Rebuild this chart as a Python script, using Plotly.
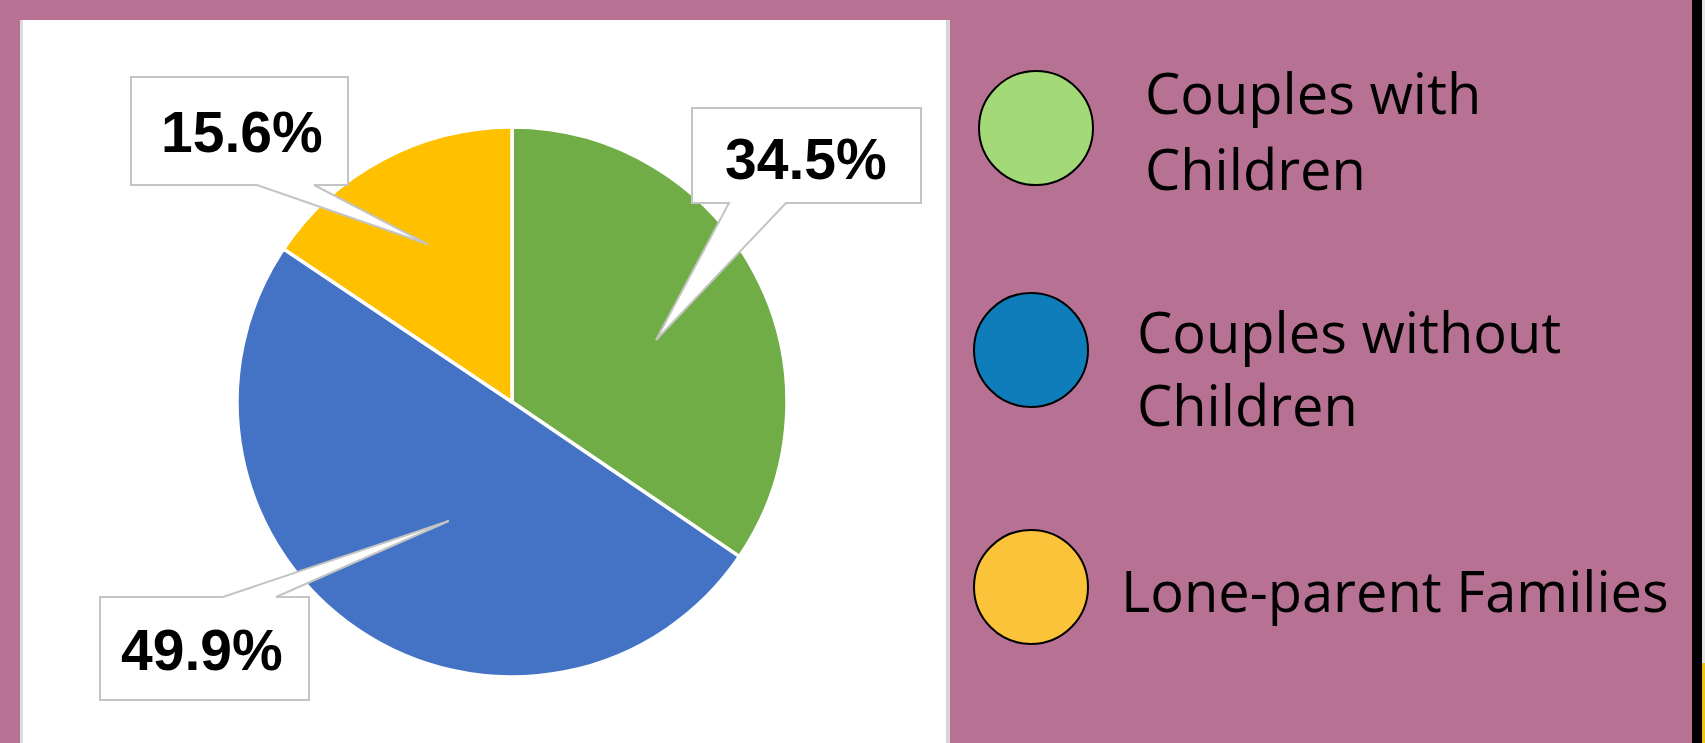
import math
import plotly.graph_objects as go

# ---------------- data ----------------
categories = ["Couples with Children", "Couples without Children", "Lone-parent Families"]
shares = [34.5, 49.9, 15.6]
legend_lines = [["Couples with", "Children"], ["Couples without", "Children"], ["Lone-parent Families"]]
label_texts = [f"{v:.1f}%" for v in shares]

# ---------------- style / layout ----------------
W, H = 1705, 743
BG = "#B77293"
pie_cx, pie_cy, pie_r = 512, 402, 275
pie_colors = ["#70AD47", "#4472C4", "#FFC000"]
legend_colors = ["#A3D977", "#0F7DB9", "#FBC33A"]

# callout boxes: (x0, y0, x1, y1), pointer side, pointer base x-range, tip radial fraction, angle offset
callouts = [
    dict(box=(692, 108, 921, 203), side="bottom", base=(729, 786), frac=0.57, dang=4.6, text_c=(806, 159)),
    dict(box=(100, 597, 309, 700), side="top", base=(223, 276), frac=0.49, dang=-6.0, text_c=(202, 650)),
    dict(box=(131, 77, 348, 185), side="bottom", base=(257, 314), frac=0.65, dang=0.0, text_c=(242, 132)),
]

legend_circles = [(1036, 128), (1031, 350), (1031, 587)]
legend_r = 57
legend_text_pos = [[(1143, 92), (1143, 168)], [(1135, 331), (1135, 404)], [(1119, 590)]]

fig = go.Figure()

fig.add_trace(go.Pie(
    labels=categories,
    values=shares,
    sort=False,
    direction="clockwise",
    rotation=0,
    marker=dict(colors=pie_colors, line=dict(color="white", width=3.5)),
    textinfo="none",
    hoverinfo="label+percent",
    showlegend=False,
    domain=dict(x=[(pie_cx - pie_r) / W, (pie_cx + pie_r) / W],
                y=[1 - (pie_cy + pie_r) / H, 1 - (pie_cy - pie_r) / H]),
))

shapes = []
# white panel and its edges
shapes.append(dict(type="rect", xref="x", yref="y", x0=20, x1=950, y0=20, y1=H + 5,
                   fillcolor="white", line=dict(width=0), layer="below"))
shapes.append(dict(type="rect", xref="x", yref="y", x0=20, x1=23, y0=20, y1=H + 5,
                   fillcolor="#DCDCDC", line=dict(width=0), layer="below"))
shapes.append(dict(type="rect", xref="x", yref="y", x0=946, x1=950, y0=20, y1=H + 5,
                   fillcolor="#D6D6D6", line=dict(width=0), layer="below"))
# right edge strips
shapes.append(dict(type="rect", xref="x", yref="y", x0=1692, x1=1702, y0=-5, y1=H + 5,
                   fillcolor="black", line=dict(width=0), layer="below"))
shapes.append(dict(type="rect", xref="x", yref="y", x0=1702, x1=W + 5, y0=-5, y1=663,
                   fillcolor="#E6E6E6", line=dict(width=0), layer="below"))
shapes.append(dict(type="rect", xref="x", yref="y", x0=1702, x1=W + 5, y0=663, y1=H + 5,
                   fillcolor="#F2C21B", line=dict(width=0), layer="below"))

# callouts, tips placed from slice mid-angles
total = sum(shares)
cum = 0.0
annotations = []
for v, txt, c in zip(shares, label_texts, callouts):
    mid = (cum + v / 2) / total * 360 + c["dang"]
    cum += v
    th = math.radians(mid)
    tx = pie_cx + c["frac"] * pie_r * math.sin(th)
    ty = pie_cy - c["frac"] * pie_r * math.cos(th)
    x0, y0, x1, y1 = c["box"]
    b0, b1 = c["base"]
    if c["side"] == "bottom":
        path = (f"M {x0},{y0} L {x1},{y0} L {x1},{y1} L {b1},{y1} L {tx:.1f},{ty:.1f} "
                f"L {b0},{y1} L {x0},{y1} Z")
    else:
        path = (f"M {x0},{y0} L {b0},{y0} L {tx:.1f},{ty:.1f} L {b1},{y0} L {x1},{y0} "
                f"L {x1},{y1} L {x0},{y1} Z")
    shapes.append(dict(type="path", xref="x", yref="y", path=path, fillcolor="white",
                       line=dict(color="#C4C4C4", width=2), layer="above"))
    annotations.append(dict(x=c["text_c"][0], y=c["text_c"][1], xref="x", yref="y",
                            text=f"<b>{txt}</b>", showarrow=False,
                            xanchor="center", yanchor="middle",
                            font=dict(family="Liberation Sans, Arial", size=57, color="black")))

# custom legend
for (cx, cy), col, lines, poss in zip(legend_circles, legend_colors, legend_lines, legend_text_pos):
    shapes.append(dict(type="circle", xref="x", yref="y", x0=cx - legend_r, x1=cx + legend_r,
                       y0=cy - legend_r, y1=cy + legend_r, fillcolor=col,
                       line=dict(color="black", width=2), layer="above"))
    for line, (lx, ly) in zip(lines, poss):
        annotations.append(dict(x=lx, y=ly, xref="x", yref="y", text=line, showarrow=False,
                                xanchor="left", yanchor="middle",
                                font=dict(family="Open Sans", size=56, color="black")))

fig.update_layout(
    width=W, height=H,
    margin=dict(l=0, r=0, t=0, b=0),
    paper_bgcolor=BG, plot_bgcolor="rgba(0,0,0,0)",
    xaxis=dict(range=[0, W], visible=False, fixedrange=True, domain=[0, 1]),
    yaxis=dict(range=[H, 0], visible=False, fixedrange=True, domain=[0, 1]),
    shapes=shapes,
    annotations=annotations,
    showlegend=False,
)

fig.write_html("out.html", config={"displayModeBar": False})
